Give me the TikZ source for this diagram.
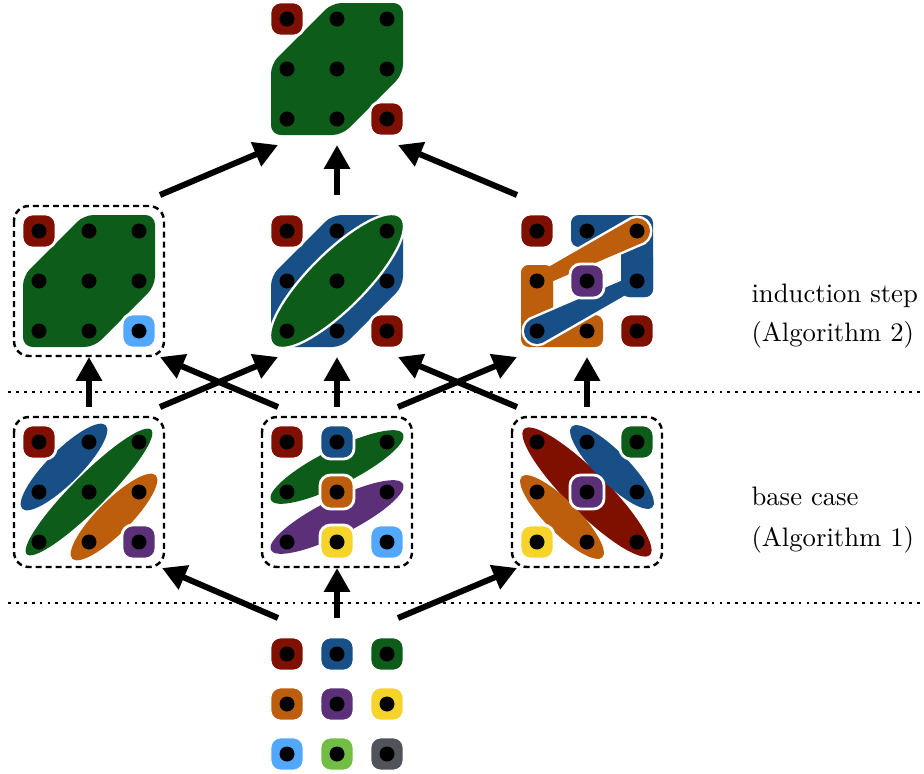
\documentclass[tikz,border=0pt]{standalone}
\usetikzlibrary{arrows.meta}
\definecolor{cred}{HTML}{7F1000}
\definecolor{cblue}{HTML}{174F86}
\definecolor{cgreen}{HTML}{0D5C1A}
\definecolor{corange}{HTML}{BD5E0C}
\definecolor{cpurple}{HTML}{5C3078}
\definecolor{cyellow}{HTML}{F7D42B}
\definecolor{clblue}{HTML}{52A8FF}
\definecolor{clgreen}{HTML}{72BE44}
\definecolor{cgray}{HTML}{50545A}
\tikzset{
  sqs/.style={draw=white, line width=1.6pt, rounded corners=6pt},
  dbox/.style={draw=black, line width=1.4pt, dash pattern=on 3.4pt off 2.3pt, rounded corners=8.5pt},
  sepline/.style={draw=black, line width=1.6pt, dash pattern=on 1.6pt off 2.9pt},
  arr/.style={line width=3.4pt, -{Triangle[length=13.6pt,width=14.2pt]}},
  lbl/.style={anchor=base west, inner sep=0pt, scale=1.52},
  wb/.style={preaction={draw=white, line width=2.8pt}},
}
\newcommand\msq[3]{\filldraw[sqs, fill=#1] (#2*50-17,#3*50-17) rectangle (#2*50+17,#3*50+17);}
\newcommand\mdots{\foreach \i in {0,1,2}{\foreach \j in {0,1,2}{\fill[black] (\i*50,\j*50) circle[radius=7.5];}}}
\newcommand\octa[1]{\fill[#1, rounded corners=5.5pt] (45,-16) -- (116,-16) -- (116,55) -- (55,116) -- (-16,116) -- (-16,45) -- cycle;}
\newcommand\blueL{(34,-16) -- (116,-16) -- (116,66) -- (84,66) -- (84,16) -- (34,16) -- cycle}
\newcommand\orangeL{(-16,34) -- (16,34) -- (16,84) -- (66,84) -- (66,116) -- (-16,116) -- cycle}
\begin{document}
\begin{tikzpicture}[x=0.02cm, y=-0.02cm]
\useasboundingbox (0,0) rectangle (924,774);

% separator lines
\coordinate (s1a) at (8,392); \coordinate (s1b) at (924,392);
\coordinate (s2a) at (8,603); \coordinate (s2b) at (924,603);
\draw[sepline] (s1a) -- (s1b);
\draw[sepline] (s2a) -- (s2b);

% top
\begin{scope}[shift={(287,19)}]
\octa{cgreen}
\msq{cred}{0}{0} \msq{cred}{2}{2}
\mdots
\end{scope}

% middle-left
\begin{scope}[shift={(39,231)}]
\draw[dbox] (-25,-25) rectangle (125,125);
\octa{cgreen}
\msq{cred}{0}{0} \msq{clblue}{2}{2}
\mdots
\end{scope}

% middle-center
\begin{scope}[shift={(287,231)}]
\octa{cblue}
\fill[cgreen, wb, rotate around={45:(50,50)}] (50,50) ellipse[x radius=89, y radius=27];
\msq{cred}{0}{0} \msq{cred}{2}{2}
\mdots
\end{scope}

% middle-right
\begin{scope}[shift={(537,231)}]
\fill[cblue, rounded corners=4.5pt] \blueL;
\fill[corange, rounded corners=4.5pt] \orangeL;
\fill[corange, wb] (106.48,11.27) -- (3.24,55.63) arc[start angle=60.1, end angle=246.76, radius=6.5] -- (94.87,-11.95) arc[start angle=246.76, end angle=420.1, radius=13] -- cycle;
\fill[cblue, wb] (-6.48,88.73) -- (96.76,44.37) arc[start angle=240.1, end angle=426.76, radius=6.5] -- (5.13,111.95) arc[start angle=66.76, end angle=240.1, radius=13] -- cycle;
\begin{scope}
\clip (84,26) rectangle (130,130);
\fill[cblue, rounded corners=4.5pt] \blueL;
\end{scope}
\begin{scope}
\clip (-30,-30) rectangle (16,74);
\fill[corange, rounded corners=4.5pt] \orangeL;
\end{scope}
\msq{cred}{0}{0} \msq{cpurple}{1}{1} \msq{cred}{2}{2}
\mdots
\end{scope}

% base-left
\begin{scope}[shift={(39,442)}]
\draw[dbox] (-25,-25) rectangle (125,125);
\fill[cblue, rotate around={45:(25,25)}] (25,25) ellipse[x radius=59, y radius=16.5];
\fill[cgreen, rotate around={45:(50,50)}] (50,50) ellipse[x radius=88, y radius=17];
\fill[corange, rotate around={45:(75,75)}] (75,75) ellipse[x radius=59, y radius=16.5];
\msq{cred}{0}{0} \msq{cpurple}{2}{2}
\mdots
\end{scope}

% base-center
\begin{scope}[shift={(287,442)}]
\draw[dbox] (-25,-25) rectangle (125,125);
\fill[cgreen, rotate around={26.57:(50,25)}] (50,25) ellipse[x radius=74, y radius=18];
\fill[cpurple, rotate around={26.57:(50,75)}] (50,75) ellipse[x radius=74, y radius=18];
\msq{cred}{0}{0} \msq{cblue}{1}{0} \msq{corange}{1}{1} \msq{cyellow}{1}{2} \msq{clblue}{2}{2}
\mdots
\end{scope}

% base-right
\begin{scope}[shift={(537,442)}]
\draw[dbox] (-25,-25) rectangle (125,125);
\fill[cred, rotate around={-45:(50,50)}] (50,50) ellipse[x radius=89, y radius=20.5];
\fill[cblue, rotate around={-45:(75,25)}] (75,25) ellipse[x radius=57, y radius=16];
\fill[corange, rotate around={-45:(25,75)}] (25,75) ellipse[x radius=57, y radius=16];
\msq{cgreen}{2}{0} \msq{cpurple}{1}{1} \msq{cyellow}{0}{2}
\mdots
\end{scope}

% bottom
\begin{scope}[shift={(287,654)}]
\msq{cred}{0}{0} \msq{cblue}{1}{0} \msq{cgreen}{2}{0}
\msq{corange}{0}{1} \msq{cpurple}{1}{1} \msq{cyellow}{2}{1}
\msq{clblue}{0}{2} \msq{clgreen}{1}{2} \msq{cgray}{2}{2}
\mdots
\end{scope}

% arrow end points
\coordinate (t1s) at (160,195); \coordinate (t1e) at (278,145);
\coordinate (t2s) at (337,195); \coordinate (t2e) at (337,145);
\coordinate (t3s) at (517,195); \coordinate (t3e) at (398,145);
\coordinate (m1s) at (89,407);  \coordinate (m1e) at (89,357);
\coordinate (m2s) at (160,407); \coordinate (m2e) at (278,357);
\coordinate (m3s) at (278,407); \coordinate (m3e) at (160,357);
\coordinate (m4s) at (337,407); \coordinate (m4e) at (337,357);
\coordinate (m5s) at (398,407); \coordinate (m5e) at (517,357);
\coordinate (m6s) at (517,407); \coordinate (m6e) at (398,357);
\coordinate (m7s) at (587,407); \coordinate (m7e) at (587,357);
\coordinate (b1s) at (278,618); \coordinate (b1e) at (162,568);
\coordinate (b2s) at (337,618); \coordinate (b2e) at (337,568);
\coordinate (b3s) at (398,618); \coordinate (b3e) at (517,568);
\foreach \a in {t1,t2,t3,m1,m2,m3,m4,m5,m6,m7,b1,b2,b3}{\draw[arr] (\a s) -- (\a e);}

% labels
\node[lbl] (l1) at (751,302) {induction step};
\node[lbl] (l2) at (751,341) {(Algorithm 2)};
\node[lbl] (l3) at (751,505) {base case};
\node[lbl] (l4) at (751,546) {(Algorithm 1)};
\end{tikzpicture}
\end{document}
